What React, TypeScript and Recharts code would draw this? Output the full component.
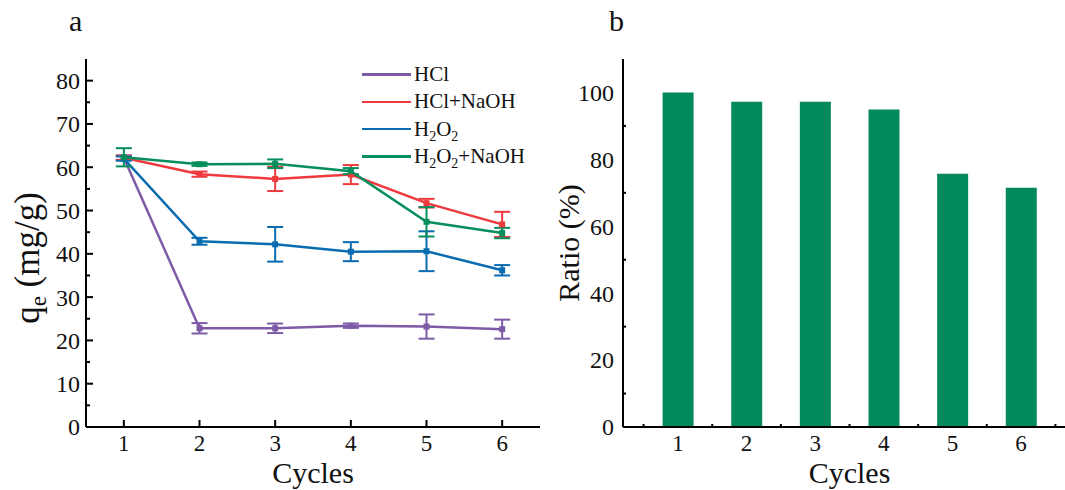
import React from "react";
import { BarChart, Bar, LineChart, Line, XAxis, YAxis, ErrorBar, Legend } from "recharts";

const FONT = "'Liberation Serif', 'Times New Roman', serif";
const INK = "#111";

// panel a: adsorption capacity per regeneration cycle
const cycles = [1, 2, 3, 4, 5, 6];
const hcl = [62.2, 22.8, 22.8, 23.4, 23.2, 22.6];
const hclErr = [0.5, 1.2, 1.1, 0.5, 2.8, 2.2];
const hclNaoh = [62.2, 58.4, 57.3, 58.3, 51.7, 46.8];
const hclNaohErr = [0.5, 0.6, 2.8, 2.2, 1.0, 2.9];
const h2o2 = [62.0, 42.9, 42.2, 40.5, 40.6, 36.2];
const h2o2Err = [0.5, 0.8, 4.0, 2.2, 4.6, 1.2];
const h2o2Naoh = [62.3, 60.7, 60.8, 59.1, 47.4, 44.8];
const h2o2NaohErr = [2.1, 0.4, 1.0, 0.7, 3.4, 1.2];
const qeTicks = [0, 5, 10, 15, 20, 25, 30, 35, 40, 45, 50, 55, 60, 65, 70, 75, 80];

// panel b: retention ratio
const ratio = [100, 97.2, 97.2, 94.9, 75.7, 71.5];
const ratioTicks = [0, 10, 20, 30, 40, 50, 60, 70, 80, 90, 100];
const barTicks = [0.5, 1, 1.5, 2, 2.5, 3, 3.5, 4, 4.5, 5, 5.5, 6, 6.5];

const series = [
  { key: "hcl", err: "hclErr", color: "#7D5BA6", label: ["HCl"] },
  { key: "hclNaoh", err: "hclNaohErr", color: "#EE3A3E", label: ["HCl+NaOH"] },
  { key: "h2o2", err: "h2o2Err", color: "#0A6CB0", label: ["H", "2", "O", "2"] },
  { key: "h2o2Naoh", err: "h2o2NaohErr", color: "#068E5C", label: ["H", "2", "O", "2", "+NaOH"] },
];

const lineData = cycles.map((c, i) => ({
  cycle: c,
  hcl: hcl[i],
  hclErr: hclErr[i],
  hclNaoh: hclNaoh[i],
  hclNaohErr: hclNaohErr[i],
  h2o2: h2o2[i],
  h2o2Err: h2o2Err[i],
  h2o2Naoh: h2o2Naoh[i],
  h2o2NaohErr: h2o2NaohErr[i],
}));

const barData = cycles.map((c, i) => ({ cycle: c, ratio: ratio[i] }));

const axisLine = { stroke: "#000", strokeWidth: 2 };

function QeTick(p: any) {
  const v = p.payload.value;
  const major = v % 10 === 0;
  return (
    <g>
      <line x1={p.x} x2={p.x + (major ? 7 : 4)} y1={p.y} y2={p.y} stroke="#000" strokeWidth={2} />
      {major && (
        <text x={p.x - 6} y={p.y} dy="0.35em" textAnchor="end" fontSize={24} fontFamily={FONT} fill={INK}>
          {v}
        </text>
      )}
    </g>
  );
}

function RatioTick(p: any) {
  const v = p.payload.value;
  const major = v % 20 === 0;
  return (
    <g>
      {!major && <line x1={p.x} x2={p.x + 3} y1={p.y} y2={p.y} stroke="#000" strokeWidth={2} />}
      {major && (
        <text x={p.x - 9} y={p.y} dy="0.35em" textAnchor="end" fontSize={24} fontFamily={FONT} fill={INK}>
          {v}
        </text>
      )}
    </g>
  );
}

function CycleTick(p: any) {
  return (
    <g>
      <line x1={p.x} x2={p.x} y1={p.y} y2={p.y - 7} stroke="#000" strokeWidth={2} />
      <text x={p.x} y={p.y + 24} textAnchor="middle" fontSize={23} fontFamily={FONT} fill={INK}>
        {p.payload.value}
      </text>
    </g>
  );
}

function BarCycleTick(p: any) {
  const v = p.payload.value;
  const half = v % 1 !== 0;
  return (
    <g>
      {half && <line x1={p.x} x2={p.x} y1={p.y} y2={p.y - 3} stroke="#000" strokeWidth={2} />}
      {!half && (
        <text x={p.x} y={p.y + 24} textAnchor="middle" fontSize={23} fontFamily={FONT} fill={INK}>
          {v}
        </text>
      )}
    </g>
  );
}

function CyclesTitle(p: any) {
  const vb = p.viewBox;
  return (
    <text x={vb.x + vb.width / 2} y={vb.y + 56} textAnchor="middle" fontSize={30} fontFamily={FONT} fill={INK}>
      Cycles
    </text>
  );
}

function QeTitle(p: any) {
  const vb = p.viewBox;
  const cx = vb.x + 39;
  const cy = vb.y + vb.height / 2 + 15;
  return (
    <text x={cx} y={cy} transform={`rotate(-90, ${cx}, ${cy})`} textAnchor="middle" fontSize={35} fontFamily={FONT} fill={INK}>
      q
      <tspan fontSize={23} dy={7}>e</tspan>
      <tspan dy={-7}> (mg/g)</tspan>
    </text>
  );
}

function RatioTitle(p: any) {
  const vb = p.viewBox;
  const cx = vb.x + 39;
  const cy = vb.y + vb.height / 2;
  return (
    <text x={cx} y={cy} transform={`rotate(-90, ${cx}, ${cy})`} textAnchor="middle" fontSize={30} fontFamily={FONT} fill={INK}>
      Ratio (%)
    </text>
  );
}

function SeriesLegend() {
  return (
    <div style={{ fontFamily: FONT, fontSize: 21, color: INK }}>
      {series.map((s) => (
        <div key={s.key} style={{ display: "flex", alignItems: "center", height: 27.3 }}>
          <span style={{ display: "inline-block", width: 49, height: 2.5, background: s.color, marginRight: 3 }} />
          <span style={{ whiteSpace: "nowrap", lineHeight: 1 }}>
            {s.label.map((t, i) =>
              t === "2" ? (
                <sub key={i} style={{ fontSize: 14, verticalAlign: "-5px", lineHeight: 0 }}>
                  2
                </sub>
              ) : (
                <span key={i}>{t}</span>
              )
            )}
          </span>
        </div>
      ))}
    </div>
  );
}

function Square(p: any) {
  if (p.cx == null || p.cy == null) return null;
  return <rect key={p.index} x={p.cx - 3} y={p.cy - 3} width={6} height={6} fill={p.stroke} />;
}

export default function App() {
  return (
    <div
      style={{
        position: "absolute",
        left: 0,
        top: 0,
        width: 1065,
        height: 490,
        overflow: "hidden",
        background: "#fff",
        fontFamily: FONT,
      }}
    >
      <div style={{ position: "absolute", left: 69, top: 6, fontSize: 30, lineHeight: 1, color: INK }}>a</div>
      <div style={{ position: "absolute", left: 609, top: 6, fontSize: 30, lineHeight: 1, color: INK }}>b</div>

      <div style={{ position: "absolute", left: 0, top: 0 }}>
        <LineChart width={560} height={490} data={lineData} margin={{ top: 59, right: 20, bottom: 0, left: 0 }}>
          <XAxis
            dataKey="cycle"
            type="number"
            domain={[0.5, 6.5]}
            ticks={cycles}
            interval={0}
            allowDataOverflow
            height={63}
            axisLine={axisLine}
            tickLine={false}
            tickSize={0}
            tickMargin={0}
            tick={(p: any) => <CycleTick {...p} />}
            label={{ content: (p: any) => <CyclesTitle {...p} /> }}
          />
          <XAxis xAxisId="top" orientation="top" type="number" domain={[0.5, 6.5]} height={0} tick={false} tickLine={false} axisLine={axisLine} />
          <YAxis
            type="number"
            domain={[0, 85]}
            ticks={qeTicks}
            interval={0}
            allowDataOverflow
            width={86}
            axisLine={axisLine}
            tickLine={false}
            tickSize={0}
            tickMargin={0}
            tick={(p: any) => <QeTick {...p} />}
            label={{ content: (p: any) => <QeTitle {...p} /> }}
          />
          <YAxis yAxisId="right" orientation="right" type="number" domain={[0, 85]} width={0} tick={false} tickLine={false} axisLine={axisLine} />
          {series.map((s) => (
            <Line
              key={s.key}
              dataKey={s.key}
              stroke={s.color}
              strokeWidth={2.5}
              dot={(p: any) => <Square key={p.index} {...p} stroke={s.color} />}
              activeDot={false}
              isAnimationActive={false}
            >
              <ErrorBar dataKey={s.err} width={8} stroke={s.color} strokeWidth={2} direction="y" />
            </Line>
          ))}
          <Legend
            layout="vertical"
            align="center"
            verticalAlign="middle"
            content={() => <SeriesLegend />}
            wrapperStyle={{ position: "absolute", left: 362, top: 61, width: "auto", height: "auto" }}
          />
        </LineChart>
      </div>

      <div style={{ position: "absolute", left: 540, top: 0 }}>
        <BarChart width={540} height={490} data={barData} margin={{ top: 59, right: 4, bottom: 0, left: 0 }}>
          <XAxis
            dataKey="cycle"
            type="number"
            domain={[0.2, 6.8]}
            ticks={barTicks}
            interval={0}
            allowDataOverflow
            height={63}
            axisLine={axisLine}
            tickLine={false}
            tickSize={0}
            tickMargin={0}
            tick={(p: any) => <BarCycleTick {...p} />}
            label={{ content: (p: any) => <CyclesTitle {...p} /> }}
          />
          <XAxis xAxisId="top" orientation="top" type="number" domain={[0.2, 6.8]} height={0} tick={false} tickLine={false} axisLine={axisLine} />
          <YAxis
            type="number"
            domain={[0, 110]}
            ticks={ratioTicks}
            interval={0}
            allowDataOverflow
            width={83}
            axisLine={axisLine}
            tickLine={false}
            tickSize={0}
            tickMargin={0}
            tick={(p: any) => <RatioTick {...p} />}
            label={{ content: (p: any) => <RatioTitle {...p} /> }}
          />
          <Bar dataKey="ratio" fill="#028A5E" barSize={31} isAnimationActive={false} />
        </BarChart>
      </div>
    </div>
  );
}
